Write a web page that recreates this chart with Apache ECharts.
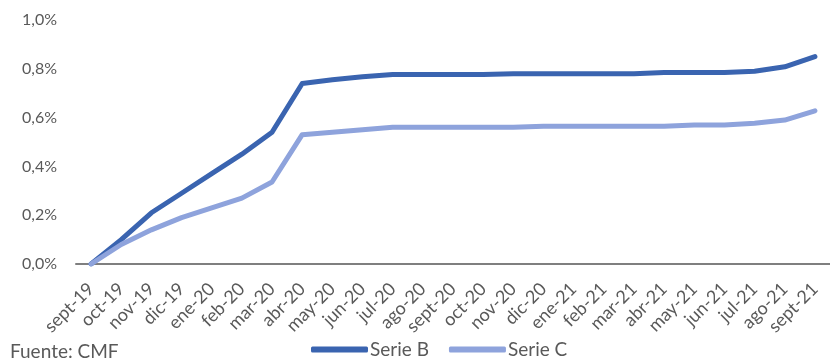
<!DOCTYPE html>
<html>
<head>
<meta charset="utf-8">
<script src="https://cdn.jsdelivr.net/npm/echarts@6/dist/echarts.min.js"></script>
<style>
  html, body { margin: 0; padding: 0; background: #fff; }
  #chart { width: 830px; height: 360px; }
</style>
</head>
<body>
<div id="chart"></div>
<script>
// Monthly categories, Sept 2019 to Sept 2021
const months = [
  'sept-19','oct-19','nov-19','dic-19','ene-20','feb-20','mar-20','abr-20','may-20',
  'jun-20','jul-20','ago-20','sept-20','oct-20','nov-20','dic-20','ene-21','feb-21',
  'mar-21','abr-21','may-21','jun-21','jul-21','ago-21','sept-21'
];

// Cumulative values, in percent
const serieB = [
  0.00, 0.10, 0.21, 0.29, 0.37, 0.45, 0.54, 0.74, 0.755,
  0.767, 0.777, 0.777, 0.777, 0.777, 0.78, 0.78, 0.78, 0.78,
  0.78, 0.785, 0.785, 0.785, 0.79, 0.808, 0.85
];
const serieC = [
  0.00, 0.08, 0.14, 0.19, 0.23, 0.27, 0.336, 0.53, 0.54,
  0.55, 0.56, 0.56, 0.56, 0.56, 0.56, 0.565, 0.565, 0.565,
  0.565, 0.565, 0.57, 0.57, 0.577, 0.59, 0.628
];

const yTicks = [0, 0.2, 0.4, 0.6, 0.8, 1.0];

const textColor = '#595959';
const font = 'Lato, "Open Sans", sans-serif';

const chart = echarts.init(document.getElementById('chart'));
chart.setOption({
  animation: false,
  textStyle: { fontFamily: font },
  grid: { left: 76, right: -11, top: 20, bottom: 96 },
  xAxis: {
    type: 'category',
    data: months,
    boundaryGap: true,
    axisLine: { lineStyle: { color: '#7f7f7f', width: 2 } },
    axisTick: { show: false },
    axisLabel: {
      interval: 0,
      rotate: 45,
      color: textColor,
      fontSize: 18,
      margin: 22,
      fontFamily: font
    }
  },
  yAxis: {
    type: 'value',
    min: yTicks[0],
    max: yTicks[yTicks.length - 1],
    interval: 0.2,
    splitLine: { show: false },
    axisLine: { show: false },
    axisTick: { show: false },
    axisLabel: {
      color: textColor,
      fontSize: 16,
      margin: 19,
      fontFamily: font,
      formatter: v => v.toFixed(1).replace('.', ',') + '%'
    }
  },
  legend: {
    top: 340,
    left: 311,
    padding: 0,
    itemWidth: 57,
    itemHeight: 6,
    itemGap: 20,
    icon: 'roundRect',
    textStyle: { color: textColor, fontSize: 19, fontFamily: font, padding: [0, 0, 0, -3] },
    data: ['Serie B', 'Serie C']
  },
  graphic: [{
    type: 'text',
    left: 10,
    top: 342,
    style: { text: 'Fuente: CMF', fill: textColor, font: '19px ' + font }
  }],
  series: [
    {
      name: 'Serie B',
      type: 'line',
      data: serieB,
      symbol: 'none',
      color: '#3a64b0',
      lineStyle: { width: 5, color: '#3a64b0', cap: 'round', join: 'round' }
    },
    {
      name: 'Serie C',
      type: 'line',
      data: serieC,
      symbol: 'none',
      color: '#8ea3dc',
      lineStyle: { width: 5, color: '#8ea3dc', cap: 'round', join: 'round' }
    }
  ]
});
</script>
</body>
</html>
